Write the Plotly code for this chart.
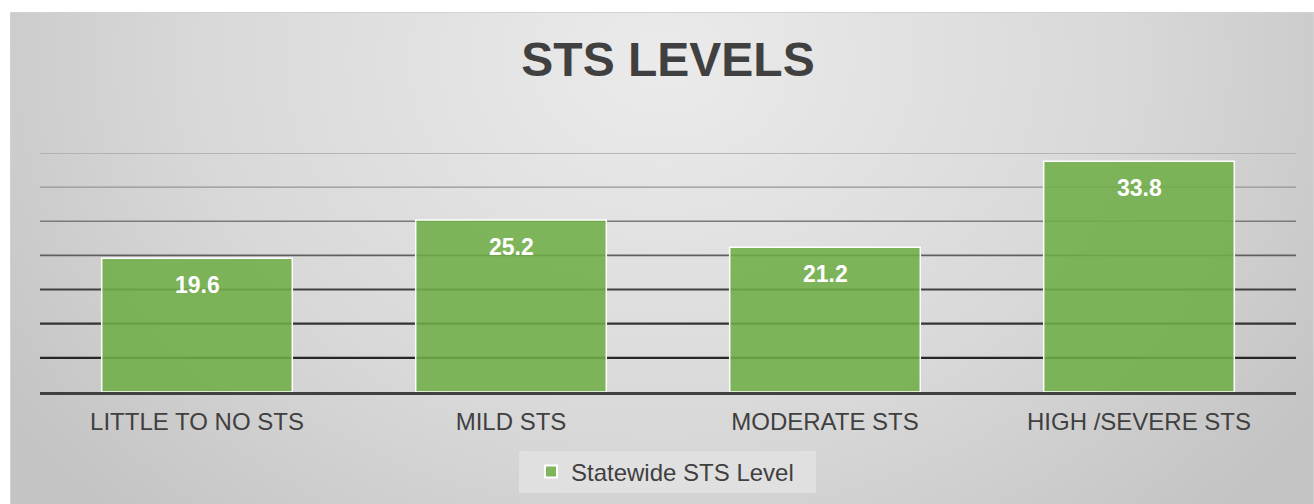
import base64
import plotly.graph_objects as go

# ---- data ----
categories = ["LITTLE TO NO STS", "MILD STS", "MODERATE STS", "HIGH /SEVERE STS"]
values = [19.6, 25.2, 21.2, 33.8]
series_name = "Statewide STS Level"
title_text = "STS LEVELS"
grid_values = [5, 10, 15, 20, 25, 30, 35]

# ---- styles ----
grid_colors = ["#262626", "#333333", "#404040", "#606060", "#7a7a7a", "#959595", "#a8a8a8"]
grid_widths = [2.2, 2.2, 2.0, 1.8, 1.6, 1.4, 1.3]
W, H = 1314, 504
ML, MR, MT, MB = 40, 18, 153, 112
PW, PH = W - ML - MR, H - MT - MB
FONT = "Liberation Sans, Arial, sans-serif"

def px_x(p):
    return (p - ML) / PW

def px_y(p):
    return (H - MB - p) / PH

# background gradient (container starts at x=10, y=12)
CX0, CY0 = 10, 12
cw, ch = W - CX0, H - CY0
svg = f'''<svg xmlns="http://www.w3.org/2000/svg" width="{cw}" height="{ch}" viewBox="0 0 {cw} {ch}" preserveAspectRatio="none">
<defs><radialGradient id="g" gradientUnits="userSpaceOnUse" cx="{cw*0.5}" cy="{ch*0.1}" r="{cw*0.6}" gradientTransform="translate({cw*0.5} {ch*0.1}) scale(1 0.8) translate({-cw*0.5} {-ch*0.1})">
<stop offset="0" stop-color="#ebebeb"/><stop offset="0.6" stop-color="#d8d8d8"/><stop offset="1" stop-color="#c4c4c4"/></radialGradient></defs>
<rect x="0" y="0" width="{cw}" height="{ch}" fill="url(#g)"/>
<rect x="0.5" y="0.5" width="{cw-1}" height="{ch+5}" fill="none" stroke="#d2d2d2" stroke-width="1"/>
</svg>'''
src = "data:image/svg+xml;base64," + base64.b64encode(svg.encode()).decode()

fig = go.Figure()
fig.add_trace(go.Bar(
    x=categories, y=values, name=series_name,
    marker=dict(color="rgba(112,173,71,0.88)", line=dict(color="white", width=1.5)),
    showlegend=True,
))

for v, c in zip(values, categories):
    fig.add_annotation(x=c, y=v, text=f"{v}", showarrow=False, yanchor="middle", yshift=-27,
                       font=dict(family=FONT, size=23, color="white", weight="bold"))

for gv, gc, gw in zip(grid_values, grid_colors, grid_widths):
    fig.add_shape(type="line", xref="paper", yref="y", x0=0, x1=1, y0=gv, y1=gv,
                  line=dict(color=gc, width=gw), layer="below")

# legend box background
fig.add_shape(type="rect", xref="paper", yref="paper",
              x0=px_x(519), x1=px_x(816), y0=px_y(493), y1=px_y(451),
              fillcolor="#e0e0e0", line=dict(width=0), layer="below")

fig.add_layout_image(dict(
    source=src, xref="paper", yref="paper",
    x=px_x(CX0), y=px_y(CY0),
    sizex=cw / PW, sizey=ch / PH,
    xanchor="left", yanchor="top", sizing="stretch", layer="below",
))

fig.update_layout(
    width=W, height=H,
    margin=dict(l=ML, r=MR, t=MT, b=MB, autoexpand=False),
    paper_bgcolor="white", plot_bgcolor="rgba(0,0,0,0)",
    bargap=0.393,
    title=dict(text=title_text, x=(ML + PW / 2) / W, xanchor="center", y=1 - 59.5 / H, yanchor="middle",
               font=dict(family=FONT, size=48, color="#404040", weight="bold")),
    xaxis=dict(showline=True, linecolor="#404040", linewidth=3, ticks="", showgrid=False,
               ticklabelstandoff=6,
               tickfont=dict(family=FONT, size=24, color="#404040"), fixedrange=True),
    yaxis=dict(range=[0, 35], showgrid=False, zeroline=False, showticklabels=False, fixedrange=True),
    legend=dict(orientation="h", x=px_x(531), xanchor="left", y=px_y(472), yanchor="middle",
                bgcolor="rgba(0,0,0,0)", font=dict(family=FONT, size=24, color="#404040"),
                itemsizing="constant"),
    showlegend=True,
)

fig.write_html("out.html", post_script="document.body.style.margin='0';",
               config={"displayModeBar": False})
